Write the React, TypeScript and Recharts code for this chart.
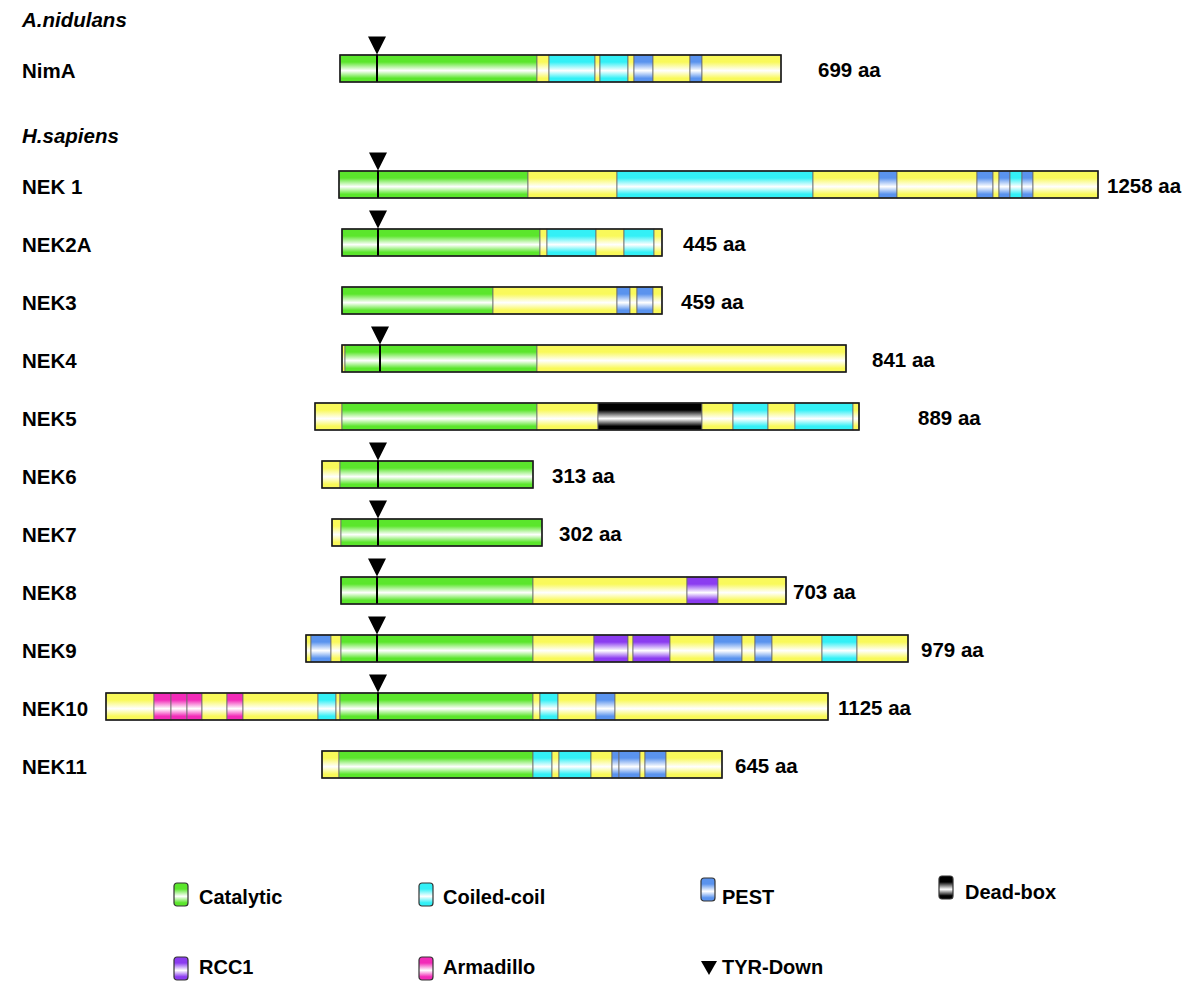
import React from "react";
import { ComposedChart, Bar, Scatter, XAxis, YAxis } from "recharts";

// rows of the figure (the "H.sapiens" row is the species header, no protein)
const rowNames = ["NimA", "H.sapiens", "NEK 1", "NEK2A", "NEK3", "NEK4", "NEK5", "NEK6", "NEK7", "NEK8", "NEK9", "NEK10", "NEK11"];
const lengthAA = [699, null, 1258, 445, 459, 841, 889, 313, 302, 703, 979, 1125, 645];
// position along the drawing where each protein box starts
const rowStart = [340, null, 339, 342, 342, 342, 315, 322, 332, 341, 306, 106, 322];
// TYR-Down marker position (null = none)
const tyrDown = [377, null, 378, 378, null, 380, null, 378, 378, 377, 377, 378, null];

// domain runs: [kind, end]; C catalytic, K coiled-coil, P PEST, D dead-box, R RCC1, A armadillo, Y plain
type Run = [string, number];
const nimA: Run[] = [["C", 537], ["Y", 549], ["K", 595], ["Y", 600], ["K", 628], ["Y", 634], ["P", 653], ["Y", 690], ["P", 702], ["Y", 781]];
const nek1: Run[] = [["C", 528], ["Y", 617], ["K", 813], ["Y", 879], ["P", 897], ["Y", 977], ["P", 993], ["Y", 999], ["P", 1010], ["K", 1022], ["P", 1033], ["Y", 1098]];
const nek2a: Run[] = [["C", 540], ["Y", 547], ["K", 596], ["Y", 624], ["K", 654], ["Y", 662]];
const nek3: Run[] = [["C", 493], ["Y", 617], ["P", 630], ["Y", 637], ["P", 653], ["Y", 662]];
const nek4: Run[] = [["Y", 345], ["C", 537], ["Y", 846]];
const nek5: Run[] = [["Y", 342], ["C", 537], ["Y", 598], ["D", 702], ["Y", 733], ["K", 768], ["Y", 795], ["K", 853], ["Y", 859]];
const nek6: Run[] = [["Y", 340], ["C", 533]];
const nek7: Run[] = [["Y", 341], ["C", 542]];
const nek8: Run[] = [["C", 533], ["Y", 687], ["R", 718], ["Y", 786]];
const nek9: Run[] = [["Y", 311], ["P", 331], ["Y", 341], ["C", 533], ["Y", 594], ["R", 628], ["Y", 633], ["R", 670], ["Y", 714], ["P", 742], ["Y", 755], ["P", 772], ["Y", 822], ["K", 857], ["Y", 908]];
const nek10: Run[] = [["Y", 154], ["A", 171], ["A", 187], ["A", 202], ["Y", 227], ["A", 243], ["Y", 318], ["K", 336], ["Y", 340], ["C", 533], ["Y", 540], ["K", 558], ["Y", 596], ["P", 615], ["Y", 828]];
const nek11: Run[] = [["Y", 339], ["C", 533], ["K", 552], ["Y", 559], ["K", 591], ["Y", 612], ["P", 619], ["P", 640], ["Y", 645], ["P", 666], ["Y", 722]];
const domainRows: Run[][] = [nimA, [], nek1, nek2a, nek3, nek4, nek5, nek6, nek7, nek8, nek9, nek10, nek11];

const legendKinds = ["C", "K", "P", "D", "R", "A", "T"];
const legendLabels = ["Catalytic", "Coiled-coil", "PEST", "Dead-box", "RCC1", "Armadillo", "TYR-Down"];

// layout / style
const kindColor: Record<string, string> = {
  C: "#5BE62C",
  Y: "#F9F95A",
  K: "#33F0F6",
  P: "#5A93EE",
  D: "#000000",
  R: "#8B3CF0",
  A: "#F22BB8",
};
const labelGap = [37, 0, 9, 21, 19, 26, 59, 19, 17, 7, 13, 10, 13];
const legendPos = [
  [173, 882, 199, 897],
  [418, 882, 443, 897],
  [700, 877, 722, 897],
  [938, 875, 965, 892],
  [173, 956, 199, 967],
  [418, 956, 443, 967],
  [700, 960, 722, 967],
];
const FONT = "'Liberation Sans', Arial, sans-serif";
const FS = 20.5;
const BAR = 27;

const maxRuns = Math.max(...domainRows.map((r) => r.length));

const table = rowNames.map((name, i) => {
  const row: any = { name, aa: lengthAA[i], tyr: tyrDown[i], box: null };
  let from = rowStart[i];
  domainRows[i].forEach(([kind, to], j) => {
    row["s" + j] = [from, to];
    row["k" + j] = kind;
    from = to;
  });
  if (rowStart[i] != null) row.box = [rowStart[i], from];
  return row;
});

function Gradients() {
  return (
    <svg width={0} height={0} style={{ position: "absolute" }}>
      <defs>
        {Object.keys(kindColor).map((k) => (
          <linearGradient key={k} id={"grad" + k} x1="0" y1="0" x2="0" y2="1">
            <stop offset="0%" stopColor={kindColor[k]} />
            <stop offset="26%" stopColor={kindColor[k]} />
            <stop offset="58%" stopColor="#FFFFFF" stopOpacity={0.97} />
            <stop offset="86%" stopColor={kindColor[k]} />
            <stop offset="100%" stopColor={kindColor[k]} />
          </linearGradient>
        ))}
      </defs>
    </svg>
  );
}

const segmentShape = (j: number) => (props: any) => {
  const { x, y, width, height, payload } = props;
  const kind = payload["k" + j];
  if (!kind || !(width > 0)) return <g />;
  return <rect x={x} y={y} width={width} height={height} fill={`url(#grad${kind})`} stroke="#6a6a6a" strokeWidth={0.8} />;
};

const boxShape = (props: any) => {
  const { x, y, width, height, payload } = props;
  if (!payload.box || !(width > 0)) return <g />;
  const i = rowNames.indexOf(payload.name);
  return (
    <g>
      <rect x={x} y={y} width={width} height={height} fill="none" stroke="#1a1a1a" strokeWidth={1.6} />
      <text x={x + width + labelGap[i]} y={y + height / 2 + 1} dominantBaseline="central" fontFamily={FONT} fontWeight="bold" fontSize={FS} fill="#000">
        {payload.aa} aa
      </text>
    </g>
  );
};

const tyrShape = (props: any) => {
  const { cx, cy, payload } = props;
  if (payload.tyr == null || !Number.isFinite(cx)) return <g />;
  const top = cy - BAR / 2;
  return (
    <g>
      <path d={`M${cx - 9},${top - 18} L${cx + 9},${top - 18} L${cx},${top} Z`} fill="#000" />
      <line x1={cx} x2={cx} y1={top} y2={top + BAR} stroke="#000" strokeWidth={2} />
    </g>
  );
};

const RowTick = (props: any) => {
  const { x, y, payload } = props;
  const name = payload.value;
  const tx = x - 78;
  if (name === "H.sapiens") {
    return (
      <text x={tx} y={y + 9} dominantBaseline="central" fontFamily={FONT} fontWeight="bold" fontStyle="italic" fontSize={FS} fill="#000">
        {name}
      </text>
    );
  }
  return (
    <g>
      {name === "NimA" && (
        <text x={tx} y={y - 49} dominantBaseline="central" fontFamily={FONT} fontWeight="bold" fontStyle="italic" fontSize={FS} fill="#000">
          A.nidulans
        </text>
      )}
      <text x={tx} y={y + 2} dominantBaseline="central" fontFamily={FONT} fontWeight="bold" fontSize={FS} fill="#000">
        {name}
      </text>
    </g>
  );
};

function LegendIcon({ kind }: { kind: string }) {
  if (kind === "T") {
    return (
      <svg width={18} height={16}>
        <path d="M1,1 L17,1 L9,15 Z" fill="#000" />
      </svg>
    );
  }
  return (
    <svg width={16} height={25}>
      <rect x={1} y={1} width={14} height={23} rx={3} fill={`url(#grad${kind})`} stroke="#333" strokeWidth={1.2} />
    </svg>
  );
}

export default function App() {
  return (
    <div style={{ position: "absolute", left: 0, top: 0, width: 1200, height: 986, background: "#fff" }}>
      <Gradients />
      <ComposedChart
        layout="vertical"
        width={1200}
        height={800}
        data={table}
        margin={{ top: 39, right: 0, bottom: 7, left: 0 }}
        barGap={-BAR}
        barSize={BAR}
      >
        <XAxis type="number" domain={[100, 1200]} allowDataOverflow hide />
        <YAxis
          type="category"
          dataKey="name"
          width={100}
          axisLine={false}
          tickLine={false}
          tickSize={0}
          tickMargin={0}
          interval={0}
          tick={<RowTick />}
        />
        {Array.from({ length: maxRuns }, (_, j) => (
          <Bar key={j} dataKey={"s" + j} shape={segmentShape(j)} isAnimationActive={false} />
        ))}
        <Bar dataKey="box" shape={boxShape} isAnimationActive={false} />
        <Scatter dataKey="tyr" shape={tyrShape} isAnimationActive={false} />
      </ComposedChart>
      {legendKinds.map((k, i) => {
        const [ix, iy, tx, ty] = legendPos[i];
        return (
          <React.Fragment key={k}>
            <div style={{ position: "absolute", left: ix, top: iy, lineHeight: 0 }}>
              <LegendIcon kind={k} />
            </div>
            <div
              style={{
                position: "absolute",
                left: tx,
                top: ty - 12,
                height: 24,
                lineHeight: "24px",
                fontFamily: FONT,
                fontWeight: "bold",
                fontSize: 20,
                color: "#000",
                whiteSpace: "nowrap",
              }}
            >
              {legendLabels[i]}
            </div>
          </React.Fragment>
        );
      })}
    </div>
  );
}
